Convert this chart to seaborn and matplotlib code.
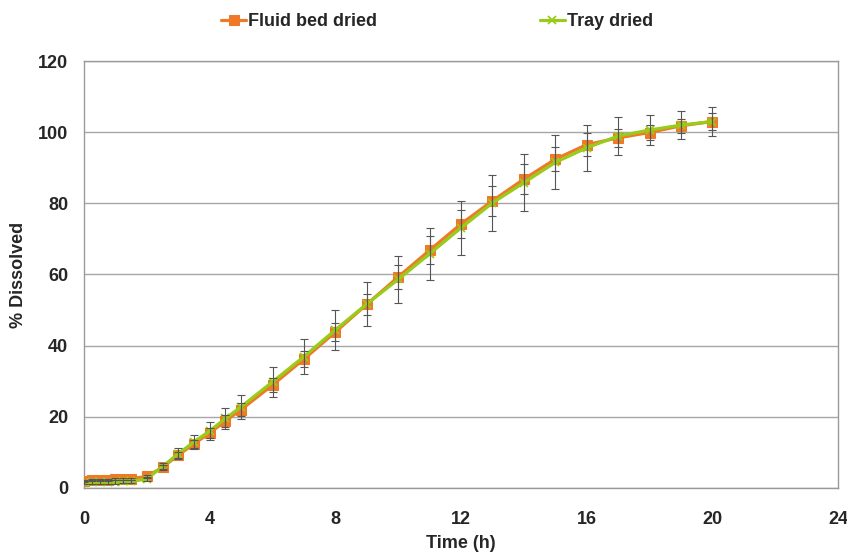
import matplotlib
matplotlib.use("Agg")
import matplotlib.pyplot as plt
import seaborn as sns
import pandas as pd

# dissolution profile data
time_h = [0, 0.25, 0.5, 0.75, 1, 1.25, 1.5, 2, 2.5, 3, 3.5, 4, 4.5, 5,
          6, 7, 8, 9, 10, 11, 12, 13, 14, 15, 16, 17, 18, 19, 20]

fluid_bed = [2.0, 2.1, 2.1, 2.3, 2.4, 2.4, 2.6, 3.2, 5.8, 9.2, 12.4, 15.4, 18.8, 22.0,
             28.9, 36.2, 43.8, 51.6, 59.3, 66.8, 74.2, 80.7, 86.8, 92.4, 96.5, 98.4, 99.9, 101.8, 103.0]
fluid_bed_sd = [0.3, 0.3, 0.3, 0.3, 0.3, 0.3, 0.3, 0.4, 0.6, 0.9, 1.1, 1.4, 1.6, 1.8,
                2.0, 2.3, 2.6, 3.0, 3.4, 3.9, 4.0, 4.3, 4.2, 3.4, 3.3, 2.6, 2.0, 2.0, 2.3]

tray = [1.5, 1.6, 1.6, 1.7, 1.7, 1.8, 1.8, 2.5, 6.0, 9.6, 12.9, 16.0, 19.5, 22.8,
        29.8, 36.9, 44.4, 51.7, 58.6, 65.8, 73.1, 80.1, 85.8, 91.5, 95.6, 98.9, 100.6, 102.0, 103.0]
tray_sd = [0.5, 0.5, 0.5, 0.5, 0.5, 0.5, 0.5, 0.6, 1.0, 1.5, 2.0, 2.6, 2.9, 3.4,
           4.2, 5.0, 5.6, 6.1, 6.5, 7.3, 7.5, 8.0, 8.0, 7.6, 6.5, 5.3, 4.3, 4.0, 4.0]

x_ticks = [0, 4, 8, 12, 16, 20, 24]
y_ticks = [0, 20, 40, 60, 80, 100, 120]

ORANGE = '#EE7A28'
GREEN = '#99CC1A'
GREY = '#9A9A9A'

sns.set_style("white")
plt.rcParams['font.family'] = ['Liberation Sans', 'DejaVu Sans']
plt.rcParams['font.weight'] = 'bold'

df = pd.DataFrame({'time': time_h, 'fluid': fluid_bed, 'tray': tray})

fig = plt.figure(figsize=(8.47, 5.55), dpi=100)
ax = fig.add_axes([0.0992, 0.121, 0.8902, 0.769])

sns.lineplot(data=df, x='time', y='fluid', ax=ax, color=ORANGE, lw=2.3,
             marker='s', markersize=6.5, markeredgecolor=ORANGE, label='Fluid bed dried', zorder=3)
sns.lineplot(data=df, x='time', y='tray', ax=ax, color=GREEN, lw=2.3,
             marker='x', markersize=6, markeredgewidth=1.3, markeredgecolor=GREEN,
             label='Tray dried', zorder=4)

ax.errorbar(time_h, fluid_bed, yerr=fluid_bed_sd, fmt='none', ecolor='#555555',
            elinewidth=0.8, capsize=3, capthick=0.8, zorder=5)
ax.errorbar(time_h, tray, yerr=tray_sd, fmt='none', ecolor='#555555',
            elinewidth=0.8, capsize=3, capthick=0.8, zorder=5)

ax.set_xlim(0, 24)
ax.set_ylim(0, 120)
ax.set_xticks(x_ticks)
ax.set_yticks(y_ticks)
ax.tick_params(axis='both', labelsize=13, direction='out', length=4.5, width=1, color=GREY)
ax.tick_params(axis='x', pad=12)
ax.tick_params(axis='y', pad=7)
for lab in ax.get_xticklabels() + ax.get_yticklabels():
    lab.set_fontweight('bold')

ax.yaxis.grid(True, color='#A6A6A6', lw=1)
ax.xaxis.grid(False)
ax.set_axisbelow(True)
for s in ax.spines.values():
    s.set_color(GREY)
    s.set_linewidth(1)

ax.set_xlabel('Time (h)', fontsize=13, fontweight='bold', labelpad=5)
ax.set_ylabel('% Dissolved', fontsize=13, fontweight='bold', labelpad=8)

ax.get_legend().remove()
handles, labels = ax.get_legend_handles_labels()
fig.legend(handles, labels, loc='center', bbox_to_anchor=(0.516, 0.961), ncol=2,
           frameon=False, handlelength=1.4, handletextpad=0.1,
           columnspacing=9.0, prop={'weight': 'bold', 'size': 13})

plt.savefig('out.png', dpi=100)
plt.close()
